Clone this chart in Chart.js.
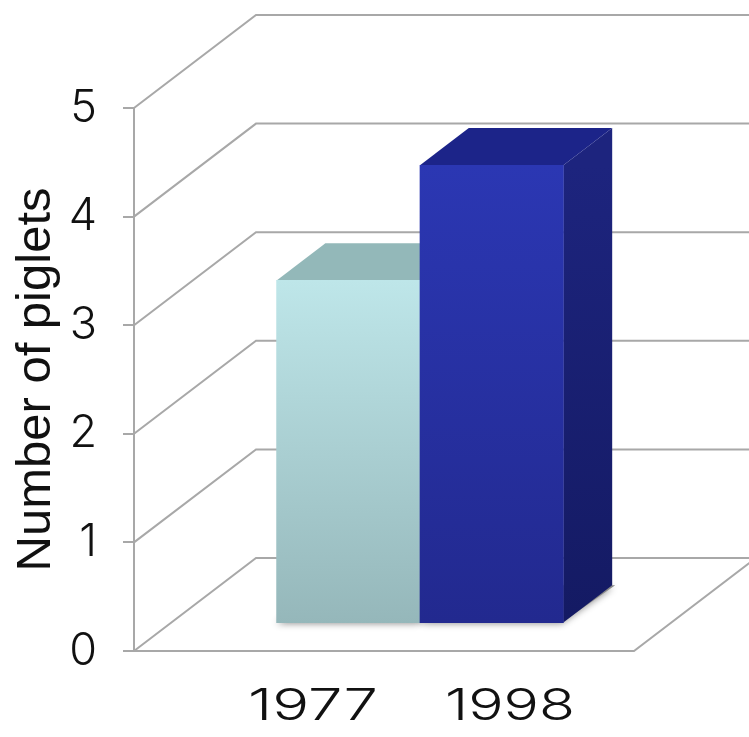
<!DOCTYPE html>
<html><head><meta charset="utf-8">
<script src="https://cdn.jsdelivr.net/npm/chart.js@4.4.1/dist/chart.umd.min.js"></script>
<style>html,body{margin:0;padding:0;background:#fff;}canvas{display:block;}</style>
</head><body>
<canvas id="c" width="749" height="737"></canvas>
<script>
// ---- data ----
const categories = ['1977', '1998'];
const piglets = [3.16, 4.22];
const yTicks = [0, 1, 2, 3, 4, 5];
const yTitle = 'Number of piglets';

// ---- styles ----
const frontTop = ['#bee6e9', '#2b37b3'];
const frontBottom = ['#95b7ba', '#22298f'];
const topColors = ['#93b8b9', '#1c2489'];
const sideTop = ['#7fa3a6', '#1d247e'];
const sideBottom = ['#6d8f92', '#141a63'];
const GRID = '#a8a8a8';
const D = { dx: 122, dy: -93 };     // depth vector of the 3D box
const Z0 = 0.295, Z1 = 0.695;       // bar front / back depth fractions
const BAR_PX = 143.4;               // bar width in px
const labelX = [313, 510];
const labelBaseline = 720;
const labelWidth = 130;

const box3d = {
  id: 'box3d',
  beforeDatasetsDraw(chart) {
    const { ctx, chartArea: a, scales: { y } } = chart;
    ctx.save();
    ctx.strokeStyle = GRID; ctx.lineWidth = 2; ctx.lineJoin = 'miter';
    yTicks.forEach(v => {
      const py = y.getPixelForValue(v);
      ctx.beginPath();
      ctx.moveTo(a.left, py);
      ctx.lineTo(a.left + D.dx, py + D.dy);
      ctx.lineTo(a.right + D.dx + 10, py + D.dy);
      ctx.stroke();
    });
    const p0 = y.getPixelForValue(0);
    ctx.beginPath();
    ctx.moveTo(a.left, p0);
    ctx.lineTo(a.right, p0);
    ctx.lineTo(a.right + D.dx, p0 + D.dy);
    ctx.stroke();

    const ox0 = D.dx * Z0, oy0 = D.dy * Z0, ox1 = D.dx * Z1, oy1 = D.dy * Z1;
    const meta = chart.getDatasetMeta(0);
    // soft contact shadows under the bars
    meta.data.forEach((bar) => {
      const { x: cx, base, width } = bar.getProps(['x', 'base', 'width'], true);
      const L = cx - width / 2, R = cx + width / 2;
      ctx.save();
      ctx.shadowColor = 'rgba(0,0,0,0.45)';
      ctx.shadowBlur = 7;
      ctx.shadowOffsetX = -2;
      ctx.shadowOffsetY = 2;
      ctx.fillStyle = '#888';
      ctx.beginPath();
      ctx.moveTo(L + ox0 + 2, base + oy0 - 1); ctx.lineTo(R + ox0, base + oy0 - 1);
      ctx.lineTo(R + ox1 + 3, base + oy1); ctx.lineTo(L + ox1, base + oy1);
      ctx.closePath(); ctx.fill();
      ctx.restore();
    });
    meta.data.forEach((bar, i) => {
      const { x: cx, y: ty, base, width } = bar.getProps(['x', 'y', 'base', 'width'], true);
      const L = cx - width / 2, R = cx + width / 2;
      const g = ctx.createLinearGradient(0, ty + oy0, 0, base + oy0);
      g.addColorStop(0, sideTop[i]); g.addColorStop(1, sideBottom[i]);
      ctx.fillStyle = g;
      ctx.beginPath();
      ctx.moveTo(R + ox0, ty + oy0); ctx.lineTo(R + ox1, ty + oy1);
      ctx.lineTo(R + ox1, base + oy1); ctx.lineTo(R + ox0, base + oy0);
      ctx.closePath(); ctx.fill();
      ctx.fillStyle = topColors[i];
      ctx.beginPath();
      ctx.moveTo(L + ox0, ty + oy0); ctx.lineTo(L + ox1, ty + oy1);
      ctx.lineTo(R + ox1, ty + oy1); ctx.lineTo(R + ox0, ty + oy0);
      ctx.closePath(); ctx.fill();
    });
    ctx.restore();
    ctx.save();
    ctx.translate(ox0, oy0);
  },
  afterDatasetsDraw(chart) { chart.ctx.restore(); },
  afterDraw(chart) {
    const ctx = chart.ctx;
    ctx.save();
    ctx.font = '300 44px Inter';
    ctx.fillStyle = '#111';
    ctx.textAlign = 'center';
    ctx.textBaseline = 'alphabetic';
    categories.forEach((c, i) => {
      const w = ctx.measureText(c).width;
      ctx.save();
      ctx.translate(labelX[i], labelBaseline);
      ctx.scale(labelWidth / w, 1);
      ctx.fillText(c, 0, 0);
      ctx.restore();
    });
    ctx.restore();
  }
};

new Chart(document.getElementById('c'), {
  type: 'bar',
  data: {
    datasets: [{
      data: piglets.map((v, i) => ({ x: i, y: v })),
      clip: false,
      borderWidth: 0,
      barThickness: BAR_PX,
      backgroundColor(c) {
        const chart = c.chart;
        if (!chart.chartArea) return frontTop[c.dataIndex];
        const ys = chart.scales.y;
        const g = chart.ctx.createLinearGradient(0, ys.getPixelForValue(piglets[c.dataIndex]), 0, ys.getPixelForValue(0));
        g.addColorStop(0, frontTop[c.dataIndex]);
        g.addColorStop(1, frontBottom[c.dataIndex]);
        return g;
      }
    }]
  },
  options: {
    responsive: false,
    animation: false,
    devicePixelRatio: 1,
    layout: { padding: { left: 0, top: 108, right: 115, bottom: 86 } },
    plugins: { legend: { display: false }, tooltip: { enabled: false } },
    scales: {
      x: {
        type: 'linear', display: false, offset: false, bounds: 'data',
        grid: { offset: false },
        min: 0.5 - 250 / BAR_PX, max: 0.5 + 250 / BAR_PX,
        afterBuildTicks(s) { s.ticks = categories.map((c, i) => ({ value: i })); }
      },
      y: {
        min: 0, max: 5,
        afterBuildTicks(s) { s.ticks = yTicks.map(v => ({ value: v })); },
        afterFit(s) { s.width = 134; },
        border: { display: true, color: GRID, width: 2 },
        grid: { drawOnChartArea: false, drawTicks: true, tickLength: 11, color: GRID, lineWidth: 2 },
        ticks: { padding: 26, color: '#111', font: { family: 'Inter', size: 45, weight: '300' } },
        title: {
          display: true, text: yTitle, color: '#111',
          font: { family: 'Liberation Sans', size: 49, weight: 'normal' },
          padding: { top: 7, bottom: 0 }
        }
      }
    }
  },
  plugins: [box3d]
});
</script>
</body></html>
